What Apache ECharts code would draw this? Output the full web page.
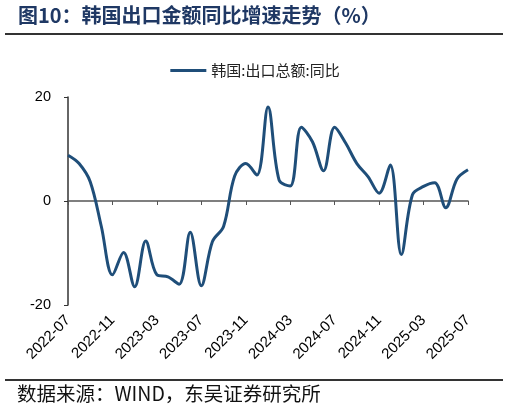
<!DOCTYPE html>
<html>
<head>
<meta charset="utf-8">
<script src="https://cdn.jsdelivr.net/npm/echarts@6/dist/echarts.min.js"></script>
<style>
    html, body { margin: 0; padding: 0; background: #fff; }
    #grafico { width: 510px; height: 413px; }
</style>
</head>
<body>
<div id="grafico"></div>
<script>
// Meses 2022-07 a 2025-07
const meses = [];
for (let a = 2022; a <= 2025; a++) {
    for (let m = 1; m <= 12; m++) {
        if (a === 2022 && m < 7) continue;
        if (a === 2025 && m > 7) continue;
        meses.push(a + '-' + (m < 10 ? '0' + m : m));
    }
}

// 韩国:出口总额:同比 (%)
const exportYoY = [
    8.8, 7.2, 3.7, -4.9, -14.2, -9.9, -16.5, -7.7, -14.2, -14.6, -16.0, -6.0,
    -16.3, -7.8, -4.9, 4.8, 7.2, 5.0, 18.1, 4.0, 2.9, 14.2, 11.4, 5.8,
    14.2, 11.1, 7.2, 4.7, 1.5, 6.9, -10.3, 1.2, 2.8, 3.5, -1.3, 4.2, 6.0
];

const ejeY = [-20, 0, 20];
const titulo = '图10：韩国出口金额同比增速走势（%）';
const fuente = '数据来源：WIND，东吴证券研究所';
const nombreSerie = '韩国:出口总额:同比';

const chart = echarts.init(document.getElementById('grafico'));

const option = {
    animation: false,
    backgroundColor: '#fff',
    textStyle: { fontFamily: 'Arial, "Liberation Sans", "Noto Sans CJK SC"' },
    graphic: [
        {
            type: 'text', left: 18, top: 5,
            style: { text: titulo, fill: '#1f3864', font: 'bold 20px "Noto Sans CJK SC"' }
        },
        {
            type: 'line', shape: { x1: 5, y1: 34, x2: 503, y2: 34 },
            style: { stroke: '#333', lineWidth: 2 }
        },
        {
            type: 'line', shape: { x1: 5, y1: 380, x2: 503, y2: 380 },
            style: { stroke: '#333', lineWidth: 2 }
        },
        {
            type: 'text', left: 17, top: 384,
            style: { text: fuente, fill: '#111', font: '19.5px "Noto Sans CJK SC"' }
        }
    ],
    legend: {
        top: 58,
        left: 'center',
        itemWidth: 36,
        itemHeight: 3,
        itemGap: 6,
        icon: 'rect',
        textStyle: { fontSize: 15, color: '#222', fontFamily: '"Noto Sans CJK SC"' },
        data: [nombreSerie]
    },
    grid: { left: 68, right: 42, top: 97, bottom: 108 },
    xAxis: [
        {
            type: 'category',
            data: meses,
            boundaryGap: false,
            axisLine: { onZero: true, lineStyle: { color: '#555', width: 1.5 } },
            axisTick: { interval: 3, length: 4, lineStyle: { color: '#555' } },
            axisLabel: { show: false },
            splitLine: { show: false }
        },
        {
            type: 'category',
            data: meses,
            boundaryGap: false,
            position: 'bottom',
            axisLine: { show: false, onZero: false },
            axisTick: { show: false },
            axisLabel: { interval: 3, rotate: 45, fontSize: 15, color: '#000', margin: 13 },
            splitLine: { show: false }
        }
    ],
    yAxis: {
        type: 'value',
        min: ejeY[0],
        max: ejeY[2],
        interval: 20,
        axisLine: { show: true, lineStyle: { color: '#333', width: 1.5 } },
        axisTick: { show: true, length: 4, lineStyle: { color: '#333' } },
        axisLabel: { fontSize: 14.5, color: '#000', margin: 17 },
        splitLine: { show: false }
    },
    series: [{
        name: nombreSerie,
        type: 'line',
        xAxisIndex: 0,
        data: exportYoY,
        smooth: 0.35,
        showSymbol: false,
        lineStyle: { color: '#1f4e79', width: 3 },
        itemStyle: { color: '#1f4e79' }
    }]
};

chart.setOption(option);
</script>
</body>
</html>
